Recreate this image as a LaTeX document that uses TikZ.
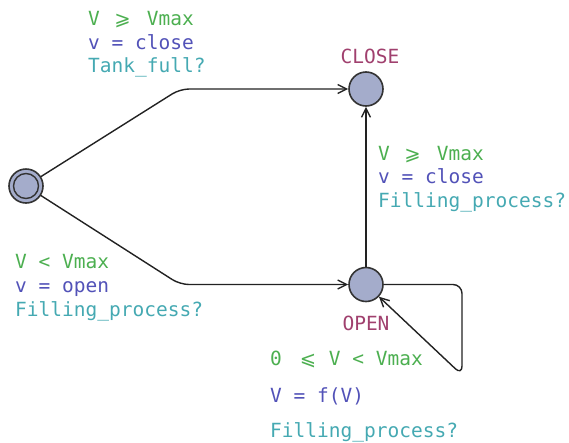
\documentclass[tikz,border=0pt]{standalone}
\usepackage{fontspec}
\usetikzlibrary{arrows.meta}
\newfontfamily\codefont{DejaVu Sans Mono}
\newfontfamily\symfont{DejaVu Sans}
\definecolor{guardc}{HTML}{4CAF50}
\definecolor{assignc}{HTML}{5252B8}
\definecolor{syncc}{HTML}{45A9B2}
\definecolor{namec}{HTML}{A0406E}
\definecolor{nodefill}{HTML}{A4ACCB}
\definecolor{nodeline}{HTML}{333333}
\definecolor{edgec}{HTML}{222222}
\newcommand{\geqsl}{\makebox[0pt]{\symfont ⩾}}
\newcommand{\leqsl}{\makebox[0pt]{\symfont ⩽}}
\begin{document}
\begin{tikzpicture}[x=1pt,y=-1pt,
  state/.style={circle, draw=nodeline, fill=nodefill, line width=1.6pt, minimum size=34pt, inner sep=0pt},
  edge/.style={draw=edgec, line width=1.4pt, rounded corners=9pt, -{Straight Barb[length=9pt,width=9pt]}},
  txt/.style={font=\codefont\fontsize{19.5}{23}\selectfont, inner sep=0pt, anchor=base west},
  locname/.style={font=\codefont\fontsize{19.5}{23}\selectfont, inner sep=0pt, anchor=base, text=namec}]
\useasboundingbox (0,0) rectangle (569,442);

% locations
\node[state] (init) at (26,186) {};
\node[circle, draw=nodeline, line width=1.4pt, minimum size=25pt, inner sep=0pt] (initin) at (init) {};
\node[state] (close) at (366,89) {};
\node[state] (open) at (366,284.5) {};
\node[locname] (closename) at (370,63) {CLOSE};
\node[locname] (openname) at (366,330) {OPEN};

% bend points
\coordinate (c1) at (180,89);
\coordinate (c2) at (180,284.5);
\coordinate (l1) at (462,284.5);
\coordinate (l2) at (462,375);

% transitions
\draw[edge] (init) -- (c1) -- (close);
\draw[edge] (init) -- (c2) -- (open);
\draw[edge] (open) -- (close);
\draw[edge] (open) -- (l1) -- (l2) -- (open);

% init -> CLOSE
\node[txt, text=guardc] (g1) at (88,25) {\rlap{V}\hspace{1.76em}\geqsl\hspace{1.25em}Vmax};
\node[txt, text=assignc] (a1) at (88,49) {v = close};
\node[txt, text=syncc] (s1) at (88,72) {Tank\_full?};

% OPEN -> CLOSE
\node[txt, text=guardc] (g2) at (378,160) {\rlap{V}\hspace{1.76em}\geqsl\hspace{1.25em}Vmax};
\node[txt, text=assignc] (a2) at (378,183) {v = close};
\node[txt, text=syncc] (s2) at (378,207) {Filling\_process?};

% init -> OPEN
\node[txt, text=guardc] (g3) at (15,268) {V < Vmax};
\node[txt, text=assignc] (a3) at (15,292) {v = open};
\node[txt, text=syncc] (s3) at (15,316) {Filling\_process?};

% OPEN self-loop
\node[txt, text=guardc] (g4) at (270,365) {\rlap{0}\hspace{1.94em}\leqsl\hspace{1.07em}V < Vmax};
\node[txt, text=assignc] (a4) at (270,402) {V = f(V)};
\node[txt, text=syncc] (s4) at (270,437) {Filling\_process?};
\end{tikzpicture}
\end{document}
